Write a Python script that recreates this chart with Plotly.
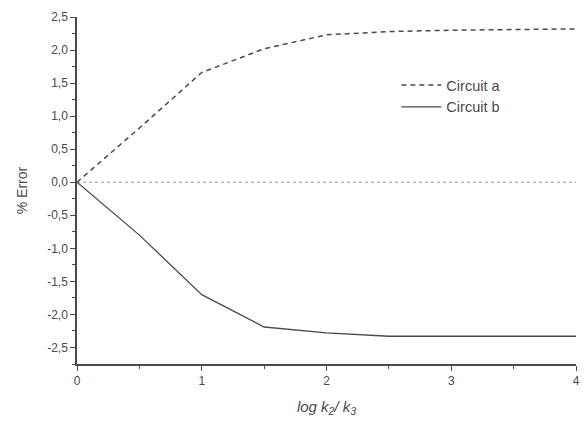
import plotly.graph_objects as go

x_vals = [0, 0.5, 1, 1.5, 2, 2.5, 3, 3.5, 4]
circuit_a = [0, 0.82, 1.66, 2.02, 2.23, 2.28, 2.30, 2.31, 2.32]
circuit_b = [0, -0.80, -1.70, -2.19, -2.28, -2.33, -2.33, -2.33, -2.33]
zero_x = [0, 4]
zero_y = [0, 0]
y_ticks = [-2.5, -2, -1.5, -1, -0.5, 0, 0.5, 1, 1.5, 2, 2.5]
y_labels = ["-2,5", "-2,0", "-1,5", "-1,0", "-0,5", "0,0", "0,5", "1,0", "1,5", "2,0", "2,5"]

ink = "#4a4a4a"
fig = go.Figure()
fig.add_trace(go.Scatter(x=zero_x, y=zero_y, mode="lines", showlegend=False,
                         line=dict(color="#9a9a9a", width=1, dash="dot")))
fig.add_trace(go.Scatter(x=x_vals, y=circuit_a, mode="lines", name="Circuit a",
                         line=dict(color=ink, width=1.5, dash="5px,4px")))
fig.add_trace(go.Scatter(x=x_vals, y=circuit_b, mode="lines", name="Circuit b",
                         line=dict(color=ink, width=1.3)))

fig.update_layout(
    width=586, height=422,
    margin=dict(l=77, r=6, t=17, b=58),
    paper_bgcolor="white", plot_bgcolor="white",
    separators=", ",
    font=dict(family="Liberation Sans, Arial, sans-serif", color=ink, size=12),
    legend=dict(x=0.64, y=0.85, xanchor="left", yanchor="top",
                bgcolor="rgba(0,0,0,0)", font=dict(size=14.5, color=ink),
                tracegroupgap=0, itemwidth=40),
    xaxis=dict(range=[0, 4], tickvals=[0, 1, 2, 3, 4], ticks="outside",
               ticklen=5, tickcolor=ink, showline=True, linecolor=ink, linewidth=1.5,
               showgrid=False, zeroline=False,
               minor=dict(tickvals=[0.5, 1.5, 2.5, 3.5], ticks="outside", ticklen=3, tickcolor=ink),
               title=dict(text="<i>log k<sub>2</sub>/ k<sub>3</sub></i>", font=dict(size=15), standoff=14),
               tickfont=dict(size=12)),
    yaxis=dict(range=[-2.75, 2.5], tickvals=y_ticks, ticktext=y_labels,
               ticks="outside", ticklen=5, tickcolor=ink, showline=True, linecolor=ink, linewidth=1.5,
               showgrid=False, zeroline=False,
               minor=dict(dtick=0.25, ticks="outside", ticklen=3, tickcolor=ink),
               title=dict(text="% Error", font=dict(size=14), standoff=16),
               tickfont=dict(size=12)),
)

fig.write_html("out.html")
